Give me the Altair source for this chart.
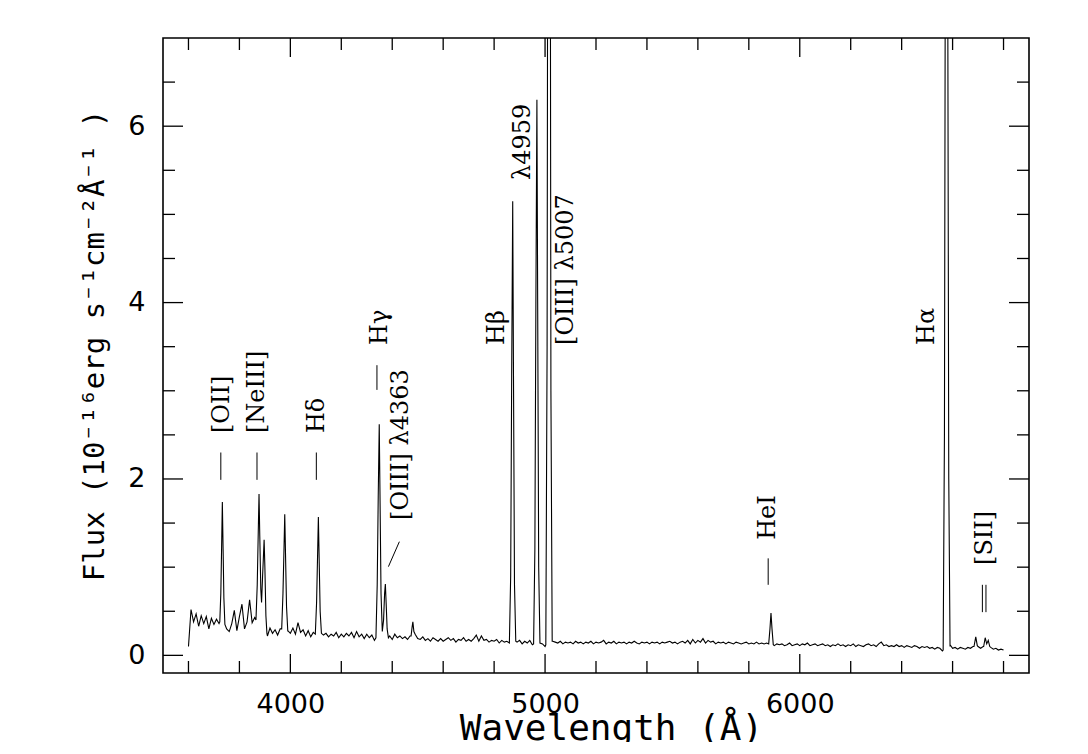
import altair as alt
import pandas as pd

# ---------------- data ----------------
# continuum flux sampled every 10 A from 3600 to 6800 A
cont_flux = [
    0.10, 0.52, 0.38, 0.47, 0.33, 0.45, 0.36, 0.44, 0.30, 0.42,   # 3600
    0.35, 0.41, 0.36, 0.40, 0.40, 0.30, 0.27, 0.36, 0.51, 0.28,   # 3700
    0.44, 0.58, 0.30, 0.38, 0.63, 0.37, 0.43, 0.40, 0.40, 0.40,   # 3800
    0.30, 0.22, 0.31, 0.25, 0.29, 0.23, 0.30, 0.30, 0.30, 0.27,   # 3900
    0.25, 0.31, 0.24, 0.37, 0.26, 0.29, 0.22, 0.28, 0.21, 0.26,   # 4000
    0.25, 0.25, 0.26, 0.23, 0.25, 0.21, 0.24, 0.22, 0.26, 0.20,   # 4100
    0.24, 0.21, 0.25, 0.22, 0.26, 0.20, 0.27, 0.21, 0.24, 0.19,   # 4200
    0.24, 0.20, 0.23, 0.17, 0.20, 0.20, 0.20, 0.20, 0.20, 0.22,   # 4300
    0.18, 0.24, 0.20, 0.22, 0.19, 0.21, 0.18, 0.22, 0.30, 0.24,   # 4400
    0.19, 0.18, 0.21, 0.17, 0.19, 0.16, 0.20, 0.18, 0.16, 0.19,   # 4500
    0.16, 0.18, 0.20, 0.17, 0.19, 0.15, 0.18, 0.17, 0.20, 0.16,   # 4600
    0.18, 0.16, 0.19, 0.23, 0.16, 0.22, 0.17, 0.18, 0.15, 0.17,   # 4700
    0.16, 0.18, 0.14, 0.17, 0.15, 0.16, 0.14, 0.15, 0.15, 0.15,   # 4800
    0.17, 0.13, 0.16, 0.14, 0.17, 0.12, 0.14, 0.14, 0.14, 0.13,   # 4900
    0.10, 0.14, 0.14, 0.16, 0.15, 0.14, 0.16, 0.13, 0.15, 0.14,   # 5000
    0.15, 0.13, 0.16, 0.14, 0.15, 0.13, 0.15, 0.14, 0.16, 0.13,   # 5100
    0.15, 0.14, 0.15, 0.17, 0.13, 0.15, 0.14, 0.16, 0.13, 0.15,   # 5200
    0.14, 0.15, 0.13, 0.15, 0.14, 0.16, 0.14, 0.13, 0.15, 0.14,   # 5300
    0.15, 0.13, 0.15, 0.14, 0.15, 0.13, 0.15, 0.14, 0.15, 0.16,   # 5400
    0.14, 0.15, 0.13, 0.15, 0.16, 0.14, 0.17, 0.13, 0.18, 0.14,   # 5500
    0.17, 0.15, 0.19, 0.14, 0.17, 0.15, 0.16, 0.13, 0.15, 0.14,   # 5600
    0.15, 0.13, 0.15, 0.14, 0.13, 0.15, 0.14, 0.13, 0.14, 0.15,   # 5700
    0.13, 0.14, 0.13, 0.15, 0.13, 0.14, 0.13, 0.14, 0.13, 0.13,   # 5800
    0.11, 0.13, 0.12, 0.13, 0.11, 0.12, 0.14, 0.11, 0.12, 0.13,   # 5900
    0.11, 0.13, 0.12, 0.14, 0.11, 0.12, 0.13, 0.11, 0.12, 0.13,   # 6000
    0.11, 0.12, 0.10, 0.12, 0.11, 0.13, 0.11, 0.12, 0.10, 0.12,   # 6100
    0.11, 0.13, 0.10, 0.12, 0.11, 0.10, 0.12, 0.13, 0.11, 0.12,   # 6200
    0.10, 0.13, 0.15, 0.11, 0.12, 0.10, 0.11, 0.10, 0.12, 0.10,   # 6300
    0.11, 0.09, 0.11, 0.10, 0.09, 0.11, 0.10, 0.08, 0.10, 0.09,   # 6400
    0.10, 0.08, 0.09, 0.07, 0.09, 0.08, 0.05, 0.08, 0.08, 0.12,   # 6500
    0.08, 0.09, 0.07, 0.09, 0.08, 0.07, 0.09, 0.08, 0.10, 0.10,   # 6600
    0.10, 0.08, 0.10, 0.10, 0.10, 0.09, 0.07, 0.08, 0.06, 0.07,   # 6700
    0.06,                                                         # 6800
]
cont_wave = list(range(3600, 6801, 10))

# emission-line profiles (wavelength, flux)
line_wave = [
    [3723, 3727, 3730, 3733, 3736, 3739, 3743],                       # [OII]
    [3865, 3870, 3874, 3877, 3880, 3884, 3887, 3891, 3894, 3897, 3900, 3904, 3908],  # [NeIII] + H8
    [3966, 3971, 3975, 3978, 3981, 3985, 3990],                       # H eps
    [4098, 4103, 4107, 4110, 4113, 4117, 4122],                       # H delta
    [4336, 4341, 4345, 4349, 4352, 4356, 4361, 4366, 4370, 4373, 4376, 4380, 4385],  # H gamma + 4363
    [4474, 4478, 4481, 4485],                                         # HeI 4471
    [4860, 4865, 4869, 4873, 4876, 4880, 4885],                       # H beta
    [4955, 4960, 4964, 4968, 4971, 4975, 4980],                       # [OIII] 4959
    [5003, 5008, 5012, 5016, 5019, 5023, 5028],                       # [OIII] 5007
    [5878, 5883, 5887, 5891, 5896],                                   # HeI 5876
    [6563, 6568, 6572, 6577, 6580, 6585, 6590],                       # H alpha
    [6684, 6691, 6697],                                               # HeI 6678
    [6722, 6728, 6734, 6740, 6746],                                   # [SII]
]
line_flux = [
    [0.38, 0.70, 1.20, 1.74, 1.20, 0.65, 0.35],
    [0.40, 0.80, 1.40, 1.83, 1.35, 0.75, 0.60, 0.90, 1.10, 1.31, 1.00, 0.45, 0.25],
    [0.30, 0.70, 1.20, 1.60, 1.15, 0.55, 0.28],
    [0.24, 0.60, 1.15, 1.57, 1.10, 0.50, 0.25],
    [0.20, 0.80, 1.80, 2.62, 1.80, 0.70, 0.27, 0.40, 0.70, 0.81, 0.60, 0.30, 0.20],
    [0.22, 0.32, 0.38, 0.27],
    [0.15, 0.90, 3.20, 5.15, 3.20, 0.80, 0.16],
    [0.13, 1.20, 4.00, 6.30, 4.00, 1.00, 0.14],
    [0.12, 3.50, 12.0, 19.0, 12.0, 3.00, 0.16],
    [0.13, 0.30, 0.48, 0.30, 0.12],
    [0.06, 2.50, 9.00, 15.0, 9.00, 2.00, 0.10],
    [0.10, 0.21, 0.11],
    [0.10, 0.20, 0.13, 0.17, 0.10],
]

# line identifications
label_text = ["[OII]", "[NeIII]", "Hδ", "Hγ", "[OIII] λ4363", "Hβ", "λ4959",
              "[OIII] λ5007", "HeI", "Hα", "[SII]"]
label_wave = [3730, 3868, 4103, 4352, 4434, 4810, 4913, 5082, 5875, 6498, 6727]
label_flux = [2.52, 2.52, 2.52, 3.52, 1.535, 3.52, 5.39, 3.52, 1.31, 3.52, 1.025]

# identification markers (short strokes)
mark_wave = [3727, 3869, 4102, 4340, 5876, 6717, 6731, 4385]
mark_wave2 = [3727, 3869, 4102, 4340, 5876, 6717, 6731, 4428]
mark_lo = [1.99, 1.99, 1.99, 3.01, 0.80, 0.49, 0.49, 1.006]
mark_hi = [2.30, 2.30, 2.30, 3.29, 1.10, 0.80, 0.80, 1.289]

# axis ticks
x_major = [4000, 5000, 6000]
x_minor = [3600, 3800, 4200, 4400, 4600, 4800, 5200, 5400, 5600, 5800,
           6200, 6400, 6600, 6800]
y_major = [0, 2, 4, 6]
y_minor = [0.5, 1, 1.5, 2.5, 3, 3.5, 4.5, 5, 5.5, 6.5]

# ---------------- build tables ----------------
assert len(cont_flux) == len(cont_wave)
pts = []
for w, f in zip(cont_wave, cont_flux):
    if any(min(lw) < w < max(lw) for lw in line_wave):
        continue
    pts.append((w, f))
for lw, lf in zip(line_wave, line_flux):
    pts.extend(zip(lw, lf))
pts.sort()
spec = pd.DataFrame(pts, columns=["wave", "flux"])

labels = pd.DataFrame({"wave": label_wave, "flux": label_flux, "text": label_text})
marks = pd.DataFrame({"w1": mark_wave, "w2": mark_wave2, "f1": mark_lo, "f2": mark_hi})

W, H = 866, 635
xs = alt.Scale(domain=[3500, 6900], nice=False, zero=False)
ys = alt.Scale(domain=[-0.2, 7], nice=False, zero=False)

xaxis = alt.Axis(values=x_major, grid=False, ticks=False, domain=False, tickSize=0,
                 labelFont="DejaVu Sans", labelFontSize=27, labelColor="black",
                 labelPadding=18, format="d",
                 title="Wavelength (Å)", titleFont="DejaVu Sans Mono",
                 titleFontSize=36, titleFontWeight="normal", titleColor="black",
                 titleX=448, titleY=66, titleAlign="center", titleBaseline="alphabetic")
yaxis = alt.Axis(values=y_major, grid=False, ticks=False, domain=False, tickSize=0,
                 labelFont="DejaVu Sans", labelFontSize=27, labelColor="black",
                 labelPadding=18, format="d",
                 title="Flux (10⁻¹⁶erg s⁻¹cm⁻²Å⁻¹ )", titleFont="DejaVu Sans Mono",
                 titleFontSize=29, titleFontWeight="normal", titleColor="black",
                 titleX=-69, titleY=307, titleAngle=270, titleAlign="center",
                 titleBaseline="middle")

spectrum = alt.Chart(spec).mark_line(color="black", strokeWidth=1.1, clip=True).encode(
    x=alt.X("wave:Q", scale=xs, axis=xaxis),
    y=alt.Y("flux:Q", scale=ys, axis=yaxis),
)

texts = alt.Chart(labels).mark_text(
    angle=270, align="left", baseline="middle", font="DejaVu Serif",
    fontSize=24, color="black"
).encode(x=alt.X("wave:Q", scale=xs), y=alt.Y("flux:Q", scale=ys), text="text:N")

idmarks = alt.Chart(marks).mark_rule(color="black", strokeWidth=1).encode(
    x=alt.X("w1:Q", scale=xs), x2="w2:Q",
    y=alt.Y("f1:Q", scale=ys), y2="f2:Q",
)

def xticks(vals, length):
    d = pd.DataFrame({"v": vals})
    bot = alt.Chart(d).mark_rule(color="black", strokeWidth=1.3).encode(
        x=alt.X("v:Q", scale=xs), y=alt.value(H), y2=alt.value(H - length))
    top = alt.Chart(d).mark_rule(color="black", strokeWidth=1.3).encode(
        x=alt.X("v:Q", scale=xs), y=alt.value(0), y2=alt.value(length))
    return [bot, top]

def yticks(vals, length):
    d = pd.DataFrame({"v": vals})
    left = alt.Chart(d).mark_rule(color="black", strokeWidth=1.3).encode(
        y=alt.Y("v:Q", scale=ys), x=alt.value(0), x2=alt.value(length))
    right = alt.Chart(d).mark_rule(color="black", strokeWidth=1.3).encode(
        y=alt.Y("v:Q", scale=ys), x=alt.value(W), x2=alt.value(W - length))
    return [left, right]

tick_layers = xticks(x_major, 19) + xticks(x_minor, 12) + yticks(y_major, 20) + yticks(y_minor, 12)

chart = alt.layer(spectrum, texts, idmarks, *tick_layers).properties(
    width=W, height=H,
    padding={"left": 155, "top": 30, "right": 51, "bottom": 69},
    autosize=alt.AutoSizeParams(type="none"),
    background="white",
).configure_view(stroke="black", strokeWidth=1.6)

chart.save("out.html", embed_options={"renderer": "svg", "actions": False})
